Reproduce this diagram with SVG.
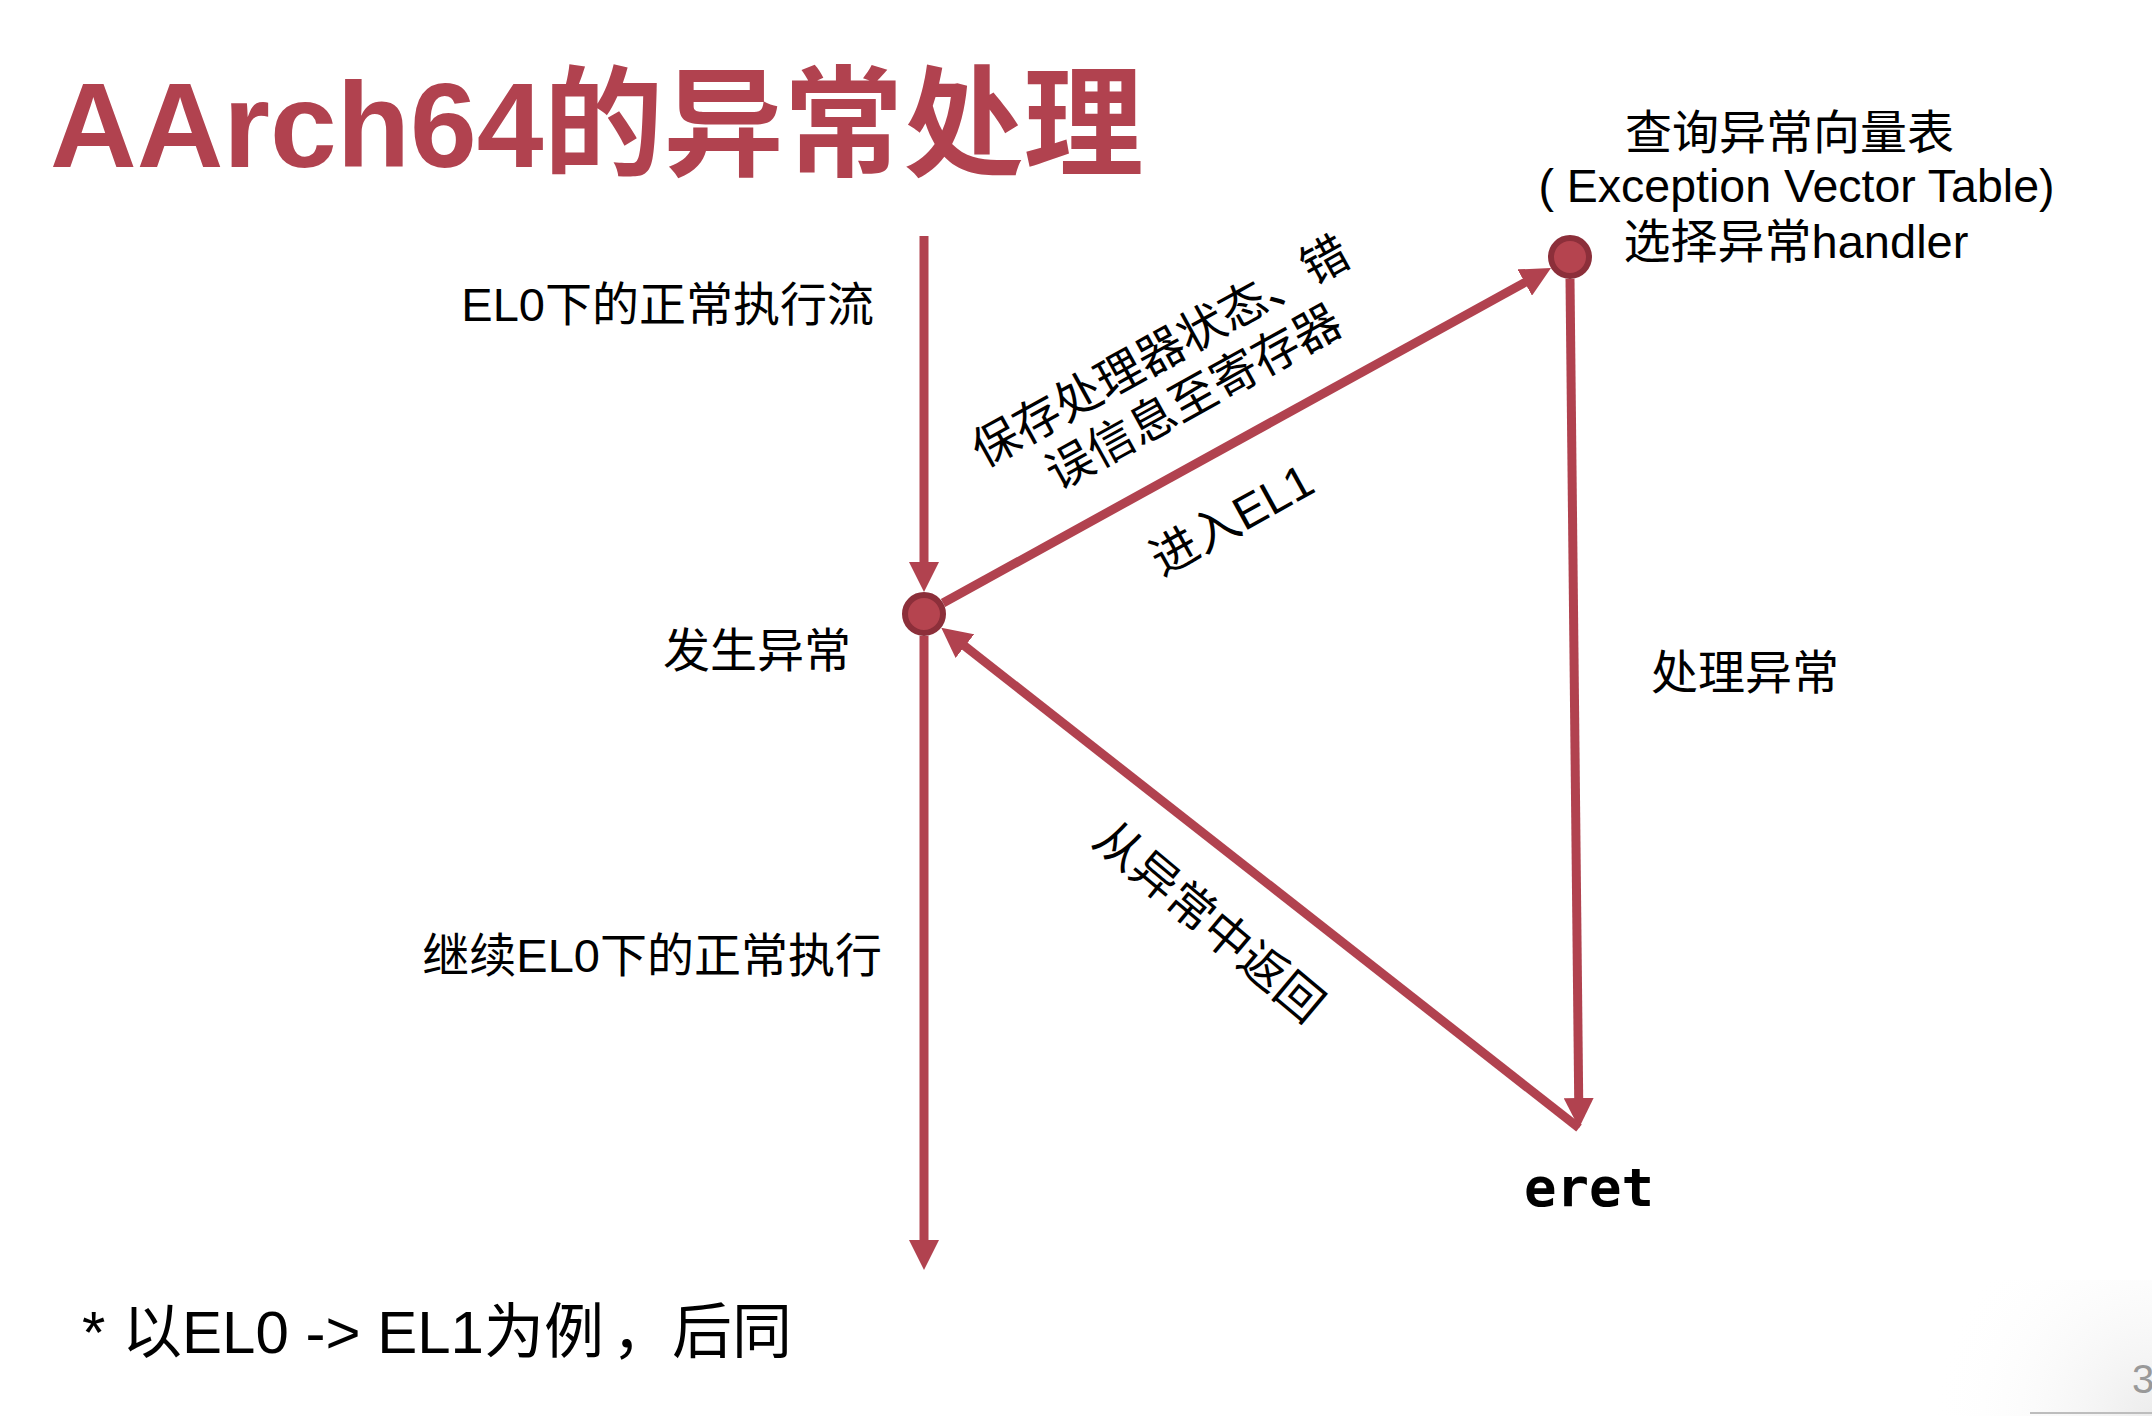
<svg xmlns="http://www.w3.org/2000/svg" width="2152" height="1416" viewBox="0 0 2152 1416">
  <style>
    .lbl { font-family: "Liberation Sans", "Noto Sans CJK SC", sans-serif; font-size: 47px; fill: #000; }
    .title { font-family: "Liberation Sans", "Noto Sans CJK SC", sans-serif; font-size: 120px; font-weight: bold; fill: #B1424F; }
    .conn { stroke: #B1424F; stroke-width: 9; fill: none; }
    .dot { fill: #B5444F; stroke: #8C2F3A; stroke-width: 6; }
    .mono { font-family: "DejaVu Sans Mono", "Liberation Mono", monospace; font-weight: bold; font-size: 54px; fill: #000; }
  </style>
  <defs>
    <marker id="arrow" viewBox="0 0 30 30" markerWidth="30" markerHeight="30" refX="10" refY="15" orient="auto" markerUnits="userSpaceOnUse">
      <path d="M0,0 L30,15 L0,30 z" fill="#B1424F"/>
    </marker>
    <radialGradient id="footer" cx="2152" cy="1416" r="220" gradientUnits="userSpaceOnUse">
      <stop offset="0" stop-color="#ececec"/>
      <stop offset="1" stop-color="#ffffff" stop-opacity="0"/>
    </radialGradient>
  </defs>
  <rect x="0" y="0" width="2152" height="1416" fill="#ffffff"/>
  <rect x="1900" y="1280" width="252" height="136" fill="url(#footer)"/>
  <line x1="2030" y1="1413" x2="2152" y2="1413" stroke="#bdbdbd" stroke-width="2"/>
  <text x="2132" y="1393" font-family="Liberation Sans, sans-serif" font-size="40" fill="#999999">3</text>

  <text class="title" x="50" y="167">AArch64的异常处理</text>

  <g id="connectors">
    <line class="conn" x1="924" y1="236" x2="924" y2="572" marker-end="url(#arrow)"/>
    <line class="conn" x1="924" y1="636" x2="924" y2="1250" marker-end="url(#arrow)"/>
    <line class="conn" x1="943" y1="603" x2="1533.5" y2="277.7" marker-end="url(#arrow)"/>
    <line class="conn" x1="1570" y1="279" x2="1578.8" y2="1108" marker-end="url(#arrow)"/>
    <line class="conn" x1="1579" y1="1128" x2="957" y2="640" marker-end="url(#arrow)"/>
  </g>

  <g id="node-exception">
    <circle class="dot" cx="924" cy="614" r="19"/>
    <text class="lbl" x="851" y="667" text-anchor="end">发生异常</text>
  </g>
  <g id="node-vector">
    <circle class="dot" cx="1570" cy="257" r="19"/>
    <text class="lbl" text-anchor="middle">
      <tspan x="1796" y="149">查询异常向量表</tspan>
      <tspan x="1803" y="202" style="font-size:46.5px">( Exception Vector Table)</tspan>
      <tspan x="1796" y="258">选择异常handler</tspan>
    </text>
  </g>
  <g id="node-eret">
    <text class="mono" x="1524" y="1206">eret</text>
  </g>

  <g id="labels">
    <text class="lbl" x="874" y="321" text-anchor="end">EL0下的正常执行流</text>
    <text class="lbl" x="882" y="972" text-anchor="end">继续EL0下的正常执行</text>
    <text class="lbl" x="1651" y="689">处理异常</text>
    <text class="lbl" text-anchor="middle" transform="translate(1180,373) rotate(-29)">
      <tspan x="0" y="-12">保存处理器状态、错</tspan>
      <tspan x="0" y="44">误信息至寄存器</tspan>
    </text>
    <text class="lbl" text-anchor="middle" transform="translate(1232,520) rotate(-29)" y="16">进入EL1</text>
    <text class="lbl" text-anchor="middle" transform="translate(1209,922) rotate(40)" y="16">从异常中返回</text>
    <text class="lbl" x="82" y="1353" style="font-size:60px">* 以EL0 -&gt; EL1为例<tspan dx="8">，后同</tspan></text>
  </g>
</svg>
